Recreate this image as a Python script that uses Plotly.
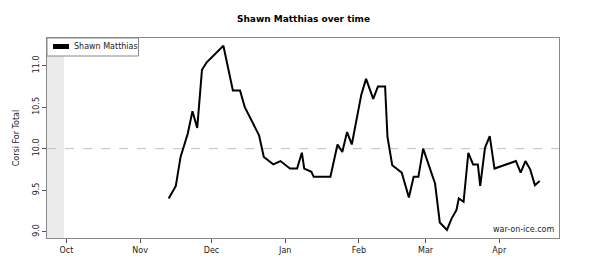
import plotly.graph_objects as go

dates = [
    "2013-11-13", "2013-11-16", "2013-11-18", "2013-11-21", "2013-11-23", "2013-11-25",
    "2013-11-27", "2013-11-29", "2013-12-06", "2013-12-10", "2013-12-13", "2013-12-15",
    "2013-12-21", "2013-12-23", "2013-12-27", "2013-12-30", "2014-01-03", "2014-01-06",
    "2014-01-08", "2014-01-09", "2014-01-12", "2014-01-13", "2014-01-20", "2014-01-23",
    "2014-01-25", "2014-01-27", "2014-01-29", "2014-02-02", "2014-02-04", "2014-02-07",
    "2014-02-09", "2014-02-12", "2014-02-13", "2014-02-15", "2014-02-19", "2014-02-22",
    "2014-02-24", "2014-02-26", "2014-02-28", "2014-03-02", "2014-03-05", "2014-03-07",
    "2014-03-10", "2014-03-12", "2014-03-14", "2014-03-15", "2014-03-17", "2014-03-19",
    "2014-03-21", "2014-03-23", "2014-03-24", "2014-03-26", "2014-03-28", "2014-03-30",
    "2014-04-08", "2014-04-10", "2014-04-12", "2014-04-14", "2014-04-16", "2014-04-18",
]
corsi_for = [
    9.40, 9.55, 9.90, 10.18, 10.45, 10.25,
    10.95, 11.04, 11.24, 10.70, 10.70, 10.50,
    10.16, 9.90, 9.81, 9.85, 9.76, 9.76,
    9.95, 9.76, 9.72, 9.66, 9.66, 10.05,
    9.96, 10.20, 10.05, 10.65, 10.84, 10.60,
    10.75, 10.75, 10.14, 9.80, 9.71, 9.41,
    9.66, 9.66, 10.00, 9.84, 9.58, 9.11,
    9.02, 9.16, 9.26, 9.40, 9.36, 9.95,
    9.81, 9.81, 9.55, 10.01, 10.15, 9.76,
    9.85, 9.71, 9.85, 9.75, 9.56, 9.61,
]
tick_dates = ["2013-10-01", "2013-11-01", "2013-12-01", "2014-01-01",
              "2014-02-01", "2014-03-01", "2014-04-01"]
tick_labels = ["Oct", "Nov", "Dec", "Jan", "Feb", "Mar", "Apr"]
y_ticks = [9.0, 9.5, 10.0, 10.5, 11.0]
reference_value = 10.0
player = "Shawn Matthias"
x_range = ["2013-09-22 20:00", "2014-04-26 03:00"]
y_range = [8.923, 11.333]
band_end = "2013-09-30"

FONT = "DejaVu Sans"

fig = go.Figure()
fig.add_trace(go.Scatter(
    x=dates, y=corsi_for, mode="lines",
    line=dict(color="black", width=2),
    showlegend=False, hoverinfo="skip",
))

# plot area pixels
L, R, T, B = 47, 559, 38, 238
W, H = R - L, B - T

def px(x):
    return (x - L) / W

def py(y):
    return 1 - (y - T) / H

shapes = [
    dict(type="rect", xref="x", yref="paper", x0=x_range[0], x1=band_end,
         y0=0, y1=1, fillcolor="#ebebeb", line=dict(width=0), layer="below"),
    dict(type="line", xref="paper", yref="y", x0=0, x1=1,
         y0=reference_value, y1=reference_value,
         line=dict(color="#c0c0c0", width=1, dash="dash"), layer="below"),
    dict(type="rect", xref="paper", yref="paper", x0=0, x1=px(138.5),
         y0=py(56), y1=1, fillcolor="white",
         line=dict(color="#888888", width=1), layer="above"),
    dict(type="line", xref="paper", yref="paper", x0=px(53), x1=px(69),
         y0=py(46.5), y1=py(46.5), line=dict(color="black", width=5), layer="above"),
]

annotations = [
    dict(text=player, xref="paper", yref="paper", x=px(72), y=py(46.8),
         xanchor="left", yanchor="middle", showarrow=False,
         font=dict(family=FONT, size=8, color="#222")),
    dict(text="war-on-ice.com", xref="paper", yref="paper", x=px(556), y=py(229.5),
         xanchor="right", yanchor="middle", showarrow=False,
         font=dict(family=FONT, size=8, color="#222")),
]

fig.update_layout(
    width=600, height=260,
    margin=dict(l=L, r=600 - R, t=T, b=260 - B),
    paper_bgcolor="white", plot_bgcolor="white",
    title=dict(text="<b>" + player + " over time</b>", x=303.5 / 600,
               xanchor="center", y=1 - 19 / 260, yanchor="middle",
               font=dict(family=FONT, size=9, color="black")),
    shapes=shapes, annotations=annotations,
    xaxis=dict(type="date", range=x_range, tickvals=tick_dates, ticktext=tick_labels,
               showgrid=False, zeroline=False, showline=True, mirror=True,
               automargin=False,
               linecolor="#888888", linewidth=1, ticks="outside", ticklen=4,
               tickcolor="#555555", tickfont=dict(family=FONT, size=8, color="#222")),
    yaxis=dict(range=y_range, tickvals=y_ticks, tickformat=".1f", tickangle=-90,
               showgrid=False, zeroline=False, showline=True, mirror=True,
               automargin=False,
               linecolor="#888888", linewidth=1, ticks="outside", ticklen=4,
               tickcolor="#555555", tickfont=dict(family=FONT, size=8, color="#222"),
               title=dict(text="Corsi For Total", standoff=10,
                          font=dict(family=FONT, size=8, color="#222"))),
)

fig.write_html("out.html")
